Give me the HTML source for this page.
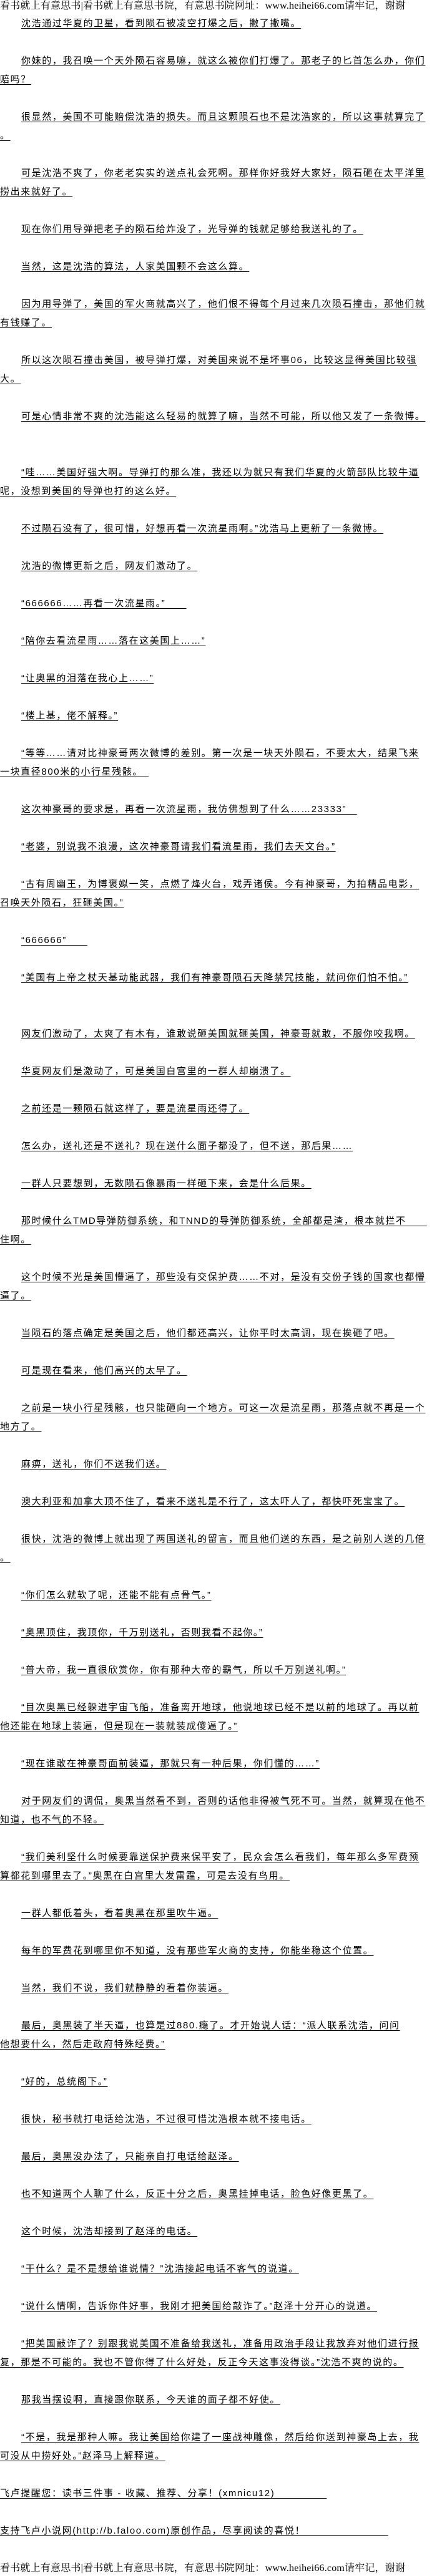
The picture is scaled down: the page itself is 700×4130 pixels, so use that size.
<!DOCTYPE html>
<html><head><meta charset="utf-8"><style>
html,body{margin:0;padding:0;background:#fff;}
body{width:700px;height:4130px;position:relative;overflow:hidden;font-family:"Liberation Sans","Noto Sans CJK SC",sans-serif;color:#000;}
.l{position:absolute;left:0;height:30px;line-height:30px;font-size:15px;letter-spacing:1.6px;white-space:nowrap;}
.l span{text-decoration:underline;text-underline-offset:3px;text-decoration-thickness:1px;}
.i{left:34px;}
.h{position:absolute;left:0;width:700px;font-size:16px;line-height:20px;white-space:nowrap;overflow:hidden;letter-spacing:0.2px;font-family:"Liberation Serif","Noto Serif CJK SC",serif;}
</style></head><body>
<div class="h" style="top:0px">看书就上有意思书|看书就上有意思书院，有意思书院网址：www.heihei66.com请牢记，谢谢</div>
<div class="l i" style="top:23px"><span>沈浩通过华夏的卫星，看到陨石被凌空打爆之后，撇了撇嘴。</span></div>
<div class="l i" style="top:83px"><span>你妹的，我召唤一个天外陨石容易嘛，就这么被你们打爆了。那老子的匕首怎么办，你们</span></div>
<div class="l" style="top:113px"><span>赔吗？</span></div>
<div class="l i" style="top:173px"><span>很显然，美国不可能赔偿沈浩的损失。而且这颗陨石也不是沈浩家的，所以这事就算完了</span></div>
<div class="l" style="top:203px"><span>。</span></div>
<div class="l i" style="top:263px"><span>可是沈浩不爽了，你老老实实的送点礼会死啊。那样你好我好大家好，陨石砸在太平洋里</span></div>
<div class="l" style="top:293px"><span>捞出来就好了。</span></div>
<div class="l i" style="top:353px"><span>现在你们用导弹把老子的陨石给炸没了，光导弹的钱就足够给我送礼的了。</span></div>
<div class="l i" style="top:413px"><span>当然，这是沈浩的算法，人家美国颗不会这么算。</span></div>
<div class="l i" style="top:473px"><span>因为用导弹了，美国的军火商就高兴了，他们恨不得每个月过来几次陨石撞击，那他们就</span></div>
<div class="l" style="top:503px"><span>有钱赚了。</span></div>
<div class="l i" style="top:563px"><span>所以这次陨石撞击美国，被导弹打爆，对美国来说不是坏事06，比较这显得美国比较强</span></div>
<div class="l" style="top:593px"><span>大。</span></div>
<div class="l i" style="top:653px"><span>可是心情非常不爽的沈浩能这么轻易的就算了嘛，当然不可能，所以他又发了一条微博。</span></div>
<div class="l i" style="top:743px"><span>“哇……美国好强大啊。导弹打的那么准，我还以为就只有我们华夏的火箭部队比较牛逼</span></div>
<div class="l" style="top:773px"><span>呢，没想到美国的导弹也打的这么好。</span></div>
<div class="l i" style="top:833px"><span>不过陨石没有了，很可惜，好想再看一次流星雨啊。”沈浩马上更新了一条微博。</span></div>
<div class="l i" style="top:893px"><span>沈浩的微博更新之后，网友们激动了。</span></div>
<div class="l i" style="top:953px"><span>“666666……再看一次流星雨。”　　</span></div>
<div class="l i" style="top:1013px"><span>“陪你去看流星雨……落在这美国上……”</span></div>
<div class="l i" style="top:1073px"><span>“让奥黑的泪落在我心上……”</span></div>
<div class="l i" style="top:1133px"><span>“楼上基，佬不解释。”</span></div>
<div class="l i" style="top:1193px"><span>“等等……请对比神豪哥两次微博的差别。第一次是一块天外陨石，不要太大，结果飞来</span></div>
<div class="l" style="top:1223px"><span>一块直径800米的小行星残骸。　</span></div>
<div class="l i" style="top:1283px"><span>这次神豪哥的要求是，再看一次流星雨，我仿佛想到了什么……23333”　</span></div>
<div class="l i" style="top:1343px"><span>“老婆，别说我不浪漫，这次神豪哥请我们看流星雨，我们去天文台。”</span></div>
<div class="l i" style="top:1403px"><span>“古有周幽王，为博褒姒一笑，点燃了烽火台，戏弄诸侯。今有神豪哥，为拍精品电影，</span></div>
<div class="l" style="top:1433px"><span>召唤天外陨石，狂砸美国。”</span></div>
<div class="l i" style="top:1493px"><span>“666666”　　</span></div>
<div class="l i" style="top:1553px"><span>“美国有上帝之杖天基动能武器，我们有神豪哥陨石天降禁咒技能，就问你们怕不怕。”</span></div>
<div class="l i" style="top:1643px"><span>网友们激动了，太爽了有木有，谁敢说砸美国就砸美国，神豪哥就敢，不服你咬我啊。</span></div>
<div class="l i" style="top:1703px"><span>华夏网友们是激动了，可是美国白宫里的一群人却崩溃了。</span></div>
<div class="l i" style="top:1763px"><span>之前还是一颗陨石就这样了，要是流星雨还得了。</span></div>
<div class="l i" style="top:1823px"><span>怎么办，送礼还是不送礼？现在送什么面子都没了，但不送，那后果……</span></div>
<div class="l i" style="top:1883px"><span>一群人只要想到，无数陨石像暴雨一样砸下来，会是什么后果。</span></div>
<div class="l i" style="top:1943px"><span>那时候什么TMD导弹防御系统，和TNND的导弹防御系统，全部都是渣，根本就拦不　　</span></div>
<div class="l" style="top:1973px"><span>住啊。</span></div>
<div class="l i" style="top:2033px"><span>这个时候不光是美国懵逼了，那些没有交保护费……不对，是没有交份子钱的国家也都懵</span></div>
<div class="l" style="top:2063px"><span>逼了。</span></div>
<div class="l i" style="top:2123px"><span>当陨石的落点确定是美国之后，他们都还高兴，让你平时太高调，现在挨砸了吧。</span></div>
<div class="l i" style="top:2183px"><span>可是现在看来，他们高兴的太早了。</span></div>
<div class="l i" style="top:2243px"><span>之前是一块小行星残骸，也只能砸向一个地方。可这一次是流星雨，那落点就不再是一个</span></div>
<div class="l" style="top:2273px"><span>地方了。</span></div>
<div class="l i" style="top:2333px"><span>麻痹，送礼，你们不送我们送。</span></div>
<div class="l i" style="top:2393px"><span>澳大利亚和加拿大顶不住了，看来不送礼是不行了，这太吓人了，都快吓死宝宝了。</span></div>
<div class="l i" style="top:2453px"><span>很快，沈浩的微博上就出现了两国送礼的留言，而且他们送的东西，是之前别人送的几倍</span></div>
<div class="l" style="top:2483px"><span>。</span></div>
<div class="l i" style="top:2543px"><span>“你们怎么就软了呢，还能不能有点骨气。”</span></div>
<div class="l i" style="top:2603px"><span>“奥黑顶住，我顶你，千万别送礼，否则我看不起你。”</span></div>
<div class="l i" style="top:2663px"><span>“普大帝，我一直很欣赏你，你有那种大帝的霸气，所以千万别送礼啊。”</span></div>
<div class="l i" style="top:2723px"><span>“目次奥黑已经躲进宇宙飞船，准备离开地球，他说地球已经不是以前的地球了。再以前</span></div>
<div class="l" style="top:2753px"><span>他还能在地球上装逼，但是现在一装就装成傻逼了。”</span></div>
<div class="l i" style="top:2813px"><span>“现在谁敢在神豪哥面前装逼，那就只有一种后果，你们懂的……”</span></div>
<div class="l i" style="top:2873px"><span>对于网友们的调侃，奥黑当然看不到，否则的话他非得被气死不可。当然，就算现在他不</span></div>
<div class="l" style="top:2903px"><span>知道，也不气的不轻。</span></div>
<div class="l i" style="top:2963px"><span>“我们美利坚什么时候要靠送保护费来保平安了，民众会怎么看我们，每年那么多军费预</span></div>
<div class="l" style="top:2993px"><span>算都花到哪里去了。”奥黑在白宫里大发雷霆，可是去没有鸟用。</span></div>
<div class="l i" style="top:3053px"><span>一群人都低着头，看着奥黑在那里吹牛逼。</span></div>
<div class="l i" style="top:3113px"><span>每年的军费花到哪里你不知道，没有那些军火商的支持，你能坐稳这个位置。</span></div>
<div class="l i" style="top:3173px"><span>当然，我们不说，我们就静静的看着你装逼。</span></div>
<div class="l i" style="top:3233px"><span>最后，奥黑装了半天逼，也算是过880.瘾了。才开始说人话：“派人联系沈浩，问问</span></div>
<div class="l" style="top:3263px"><span>他想要什么，然后走政府特殊经费。”</span></div>
<div class="l i" style="top:3323px"><span>“好的，总统阁下。”</span></div>
<div class="l i" style="top:3383px"><span>很快，秘书就打电话给沈浩，不过很可惜沈浩根本就不接电话。</span></div>
<div class="l i" style="top:3443px"><span>最后，奥黑没办法了，只能亲自打电话给赵泽。</span></div>
<div class="l i" style="top:3503px"><span>也不知道两个人聊了什么，反正十分之后，奥黑挂掉电话，脸色好像更黑了。</span></div>
<div class="l i" style="top:3563px"><span>这个时候，沈浩却接到了赵泽的电话。</span></div>
<div class="l i" style="top:3623px"><span>“干什么？是不是想给谁说情？”沈浩接起电话不客气的说道。</span></div>
<div class="l i" style="top:3683px"><span>“说什么情啊，告诉你件好事，我刚才把美国给敲诈了。”赵泽十分开心的说道。</span></div>
<div class="l i" style="top:3743px"><span>“把美国敲诈了？别跟我说美国不准备给我送礼，准备用政治手段让我放弃对他们进行报</span></div>
<div class="l" style="top:3773px"><span>复，那是不可能的。我也不管你得了什么好处，反正今天这事没得谈。”沈浩不爽的说的。</span></div>
<div class="l i" style="top:3833px"><span>那我当摆设啊，直接跟你联系，今天谁的面子都不好使。</span></div>
<div class="l i" style="top:3893px"><span>“不是，我是那种人嘛。我让美国给你建了一座战神雕像，然后给你送到神豪岛上去，我</span></div>
<div class="l" style="top:3923px"><span>可没从中捞好处。”赵泽马上解释道。</span></div>
<div class="l" style="top:3983px"><span>飞卢提醒您：读书三件事 - 收藏、推荐、分享！(xmnicu12)　　　　　</span></div>
<div class="l" style="top:4043px"><span>支持飞卢小说网(http://b.faloo.com)原创作品，尽享阅读的喜悦！　　　　　　　　</span></div>
<div class="h" style="top:4108px">看书就上有意思书|看书就上有意思书院，有意思书院网址：www.heihei66.com请牢记，谢谢</div>
</body></html>
